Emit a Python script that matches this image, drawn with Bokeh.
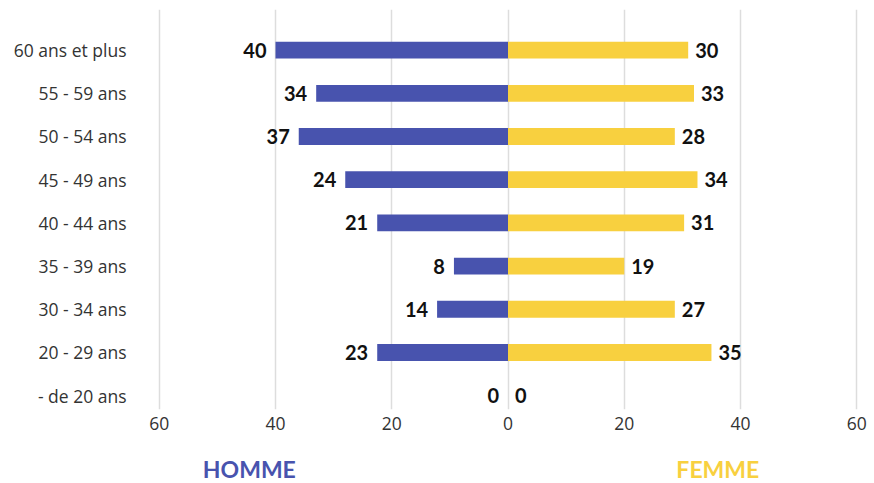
from bokeh.plotting import figure
from bokeh.models import Range1d, ColumnDataSource, FixedTicker
from bokeh.layouts import column
from bokeh.core.properties import value
from bokeh.embed import file_html
from bokeh.resources import INLINE

categories = ["60 ans et plus", "55 - 59 ans", "50 - 54 ans", "45 - 49 ans",
              "40 - 44 ans", "35 - 39 ans", "30 - 34 ans", "20 - 29 ans", "- de 20 ans"]
homme_bars = [40, 33, 36, 28, 22.5, 9.3, 12.2, 22.5, 0]
femme_bars = [31, 32, 28.7, 32.6, 30.3, 20, 28.7, 35, 0]
homme_labels = [40, 34, 37, 24, 21, 8, 14, 23, 0]
femme_labels = [30, 33, 28, 34, 31, 19, 27, 35, 0]
x_ticks = [-60, -40, -20, 0, 20, 40, 60]
series_names = ["HOMME", "FEMME"]

BLUE = "#4853ae"
YELLOW = "#f8d03f"
FONT = "Lato"
TICK_FONT = "Open Sans"

n = len(categories)
ypos = [n - 1 - i for i in range(n)]

src = ColumnDataSource(dict(
    y=ypos,
    hl=[-v for v in homme_bars],
    fr=femme_bars,
    htxt=[str(v) for v in homme_labels],
    ftxt=[str(v) for v in femme_labels],
))

xr = Range1d(-60.3, 60.3)

p = figure(width=874, height=440, output_backend="svg", toolbar_location=None,
           x_range=xr, y_range=Range1d(-0.32, 8.94),
           min_border_left=157, min_border_right=16, min_border_top=9,
           min_border_bottom=31)
p.outline_line_color = None
p.background_fill_color = "white"
p.border_fill_color = "white"

p.hbar(y="y", left="hl", right=0, height=0.39, fill_color=BLUE, line_color=None, source=src)
p.hbar(y="y", left=0, right="fr", height=0.39, fill_color=YELLOW, line_color=None, source=src)

p.text(x="hl", y="y", text="htxt", source=src, x_offset=-9, text_align="right",
       text_baseline="middle", text_font=value(FONT), text_font_style="bold",
       text_font_size="20px", text_color="#111111")
p.text(x="fr", y="y", text="ftxt", source=src, x_offset=7, text_align="left",
       text_baseline="middle", text_font=value(FONT), text_font_style="bold",
       text_font_size="20px", text_color="#111111")

# x axis
p.xaxis.ticker = FixedTicker(ticks=x_ticks)
p.xaxis.major_label_overrides = {t: str(abs(t)) for t in x_ticks}
p.xaxis.axis_line_color = None
p.xaxis.major_tick_line_color = None
p.xaxis.minor_tick_line_color = None
p.xaxis.major_tick_out = 0
p.xaxis.major_label_standoff = 7
p.xaxis.major_label_text_font = TICK_FONT
p.xaxis.major_label_text_font_size = "17.5px"
p.xaxis.major_label_text_color = "#333333"

# y axis
p.yaxis.ticker = FixedTicker(ticks=ypos)
p.yaxis.major_label_overrides = {y: c for y, c in zip(ypos, categories)}
p.yaxis.axis_line_color = None
p.yaxis.major_tick_line_color = None
p.yaxis.minor_tick_line_color = None
p.yaxis.major_tick_out = 0
p.yaxis.major_label_standoff = 31
p.yaxis.major_label_text_font = TICK_FONT
p.yaxis.major_label_text_font_size = "17.5px"
p.yaxis.major_label_text_color = "#333333"

p.xgrid.ticker = FixedTicker(ticks=x_ticks)
p.xgrid.grid_line_color = "#dddddd"
p.xgrid.grid_line_width = 1.5
p.ygrid.grid_line_color = None

# series names below the chart
p2 = figure(width=874, height=43, output_backend="svg", toolbar_location=None,
            x_range=xr, y_range=Range1d(0, 1),
            min_border_left=157, min_border_right=16, min_border_top=0,
            min_border_bottom=0)
p2.axis.visible = False
p2.grid.visible = False
p2.outline_line_color = None
p2.text(x=[-44.5, 36.1], y=[0.33, 0.33], text=series_names,
        text_color=[BLUE, YELLOW], text_align="center", text_baseline="middle",
        text_font=value(FONT), text_font_style="bold", text_font_size="23px")

layout = column(p, p2, spacing=0)
open("out.html", "w").write(file_html(layout, INLINE))
